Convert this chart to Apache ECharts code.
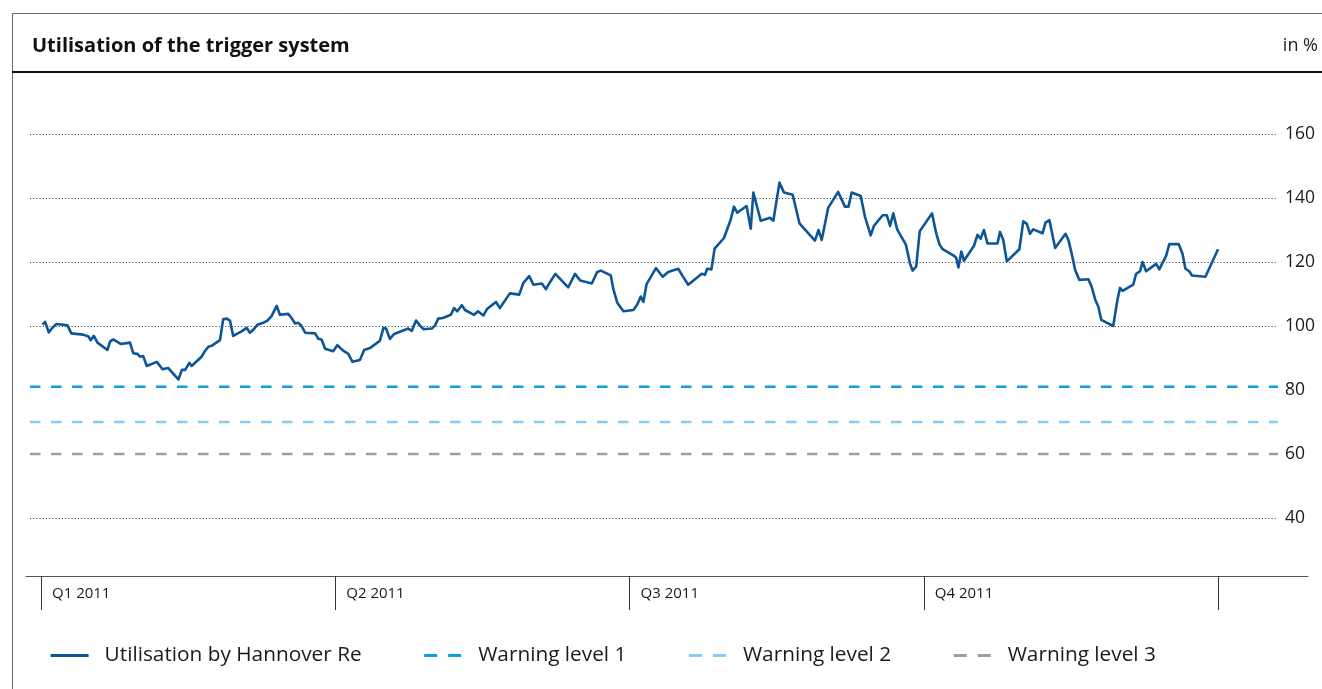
<!DOCTYPE html>
<html>
<head>
<meta charset="utf-8">
<title>Utilisation of the trigger system</title>
<script src="https://cdn.jsdelivr.net/npm/echarts@6/dist/echarts.min.js"></script>
<style>
  html, body { margin: 0; padding: 0; background: #fff; }
  #chart { width: 1322px; height: 689px; }
</style>
</head>
<body>
<div id="chart"></div>
<script>
// Day of year 2011 (0 = 1 January) and the utilisation of the trigger system in %
const days = [
  0.5, 1.3, 2.4, 3.4, 4.7, 6.9, 8.2, 9.4, 13.1, 14.7, 15.4, 16.4, 17.5, 20.6, 21.4, 22.4,
  24.7, 27.6, 28.6, 29.9, 30.7, 31.7, 32.8, 35.9, 37.7, 39.4, 42.6, 43.7, 44.7, 46.0, 46.7,
  49.8, 50.9, 51.9, 52.9, 55.5, 56.5, 57.6, 58.6, 59.6, 62.2, 63.8, 64.8, 65.8, 67.1, 68.9,
  70.2, 71.5, 73.1, 74.1, 76.7, 77.7, 78.8, 79.8, 80.8, 81.9, 85.0, 86.0, 87.0, 88.1, 90.6,
  91.9, 93.7, 95.3, 96.6, 98.9, 100.2, 102.0, 105.1, 106.2, 107.0, 108.2, 109.5, 113.9, 115.0,
  116.3, 117.5, 118.6, 121.2, 122.2, 123.2, 124.6, 127.1, 128.1, 129.1, 130.5, 131.5, 134.3,
  135.5, 137.2, 138.4, 141.1, 142.3, 145.4, 148.3, 149.6, 151.4, 152.7, 155.3, 156.6, 157.6,
  159.5, 163.5, 165.6, 167.2, 170.8, 172.5, 173.6, 176.7, 177.5, 178.7, 180.6, 183.7, 184.9,
  186.0, 186.8, 187.8, 190.7, 192.8, 194.5, 197.6, 199.0, 200.7, 204.9, 205.9, 206.6, 207.9,
  208.9, 211.8, 213.9, 214.9, 215.9, 218.8, 220.1, 220.9, 223.2, 226.1, 227.1, 229.0, 230.4,
  233.1, 235.2, 240.0, 241.1, 242.1, 244.1, 247.2, 249.3, 250.4, 251.4, 254.2, 255.5, 257.3,
  258.3, 261.0, 262.3, 263.3, 264.3, 265.5, 268.2, 269.5, 270.3, 271.4, 272.5, 276.3, 277.6,
  278.6, 279.6, 282.9, 283.8, 284.5, 285.4, 286.2, 289.3, 290.4, 291.4, 292.4, 293.5, 296.6,
  297.4, 298.4, 299.5, 303.4, 304.6, 305.7, 306.7, 307.7, 310.6, 311.5, 312.7, 314.5, 317.7,
  318.6, 319.6, 320.7, 322.0, 324.8, 325.8, 326.9, 327.9, 328.8, 332.5, 333.8, 334.6, 335.4,
  338.7, 339.6, 340.8, 341.6, 342.7, 345.8, 346.8, 348.9, 349.9, 352.8, 354.0, 354.9, 356.1,
  356.9, 361.1, 365.0
];
const utilisation = [
  100.4, 101.3, 98.0, 99.3, 100.6, 100.4, 100.2, 97.7, 97.3, 96.7, 95.6, 96.9, 94.8, 92.5, 95.1, 95.8,
  94.4, 94.8, 91.5, 91.3, 90.4, 90.6, 87.5, 88.8, 86.5, 86.9, 83.3, 86.3, 86.3, 88.5, 87.5,
  90.4, 92.3, 93.5, 93.8, 95.6, 102.1, 102.3, 101.7, 96.9, 98.3, 99.4, 97.9, 98.8, 100.4, 101.0,
  101.7, 103.1, 106.3, 103.5, 103.8, 102.5, 100.8, 101.0, 100.0, 97.9, 97.7, 96.0, 95.8, 92.9, 92.1,
  94.0, 92.3, 91.3, 88.8, 89.4, 92.5, 93.1, 95.4, 99.4, 99.2, 96.0, 97.5, 99.2, 98.5,
  101.7, 100.2, 99.0, 99.2, 100.2, 102.3, 102.5, 103.5, 105.6, 104.6, 106.5, 105.0, 103.5,
  104.6, 103.3, 105.4, 107.5, 105.6, 110.2, 109.8, 113.5, 115.6, 112.9, 113.3, 111.5, 113.3,
  116.3, 112.1, 116.3, 114.2, 113.3, 116.9, 117.3, 115.8, 111.5, 107.3, 104.6, 105.0, 106.7,
  109.2, 107.5, 113.1, 118.1, 115.4, 116.9, 117.9, 115.6, 112.9, 116.3, 116.0, 117.9, 117.7,
  124.2, 127.5, 133.3, 137.3, 135.4, 137.5, 130.4, 141.7, 132.9, 133.8, 132.9, 144.8, 141.7,
  141.0, 132.1, 126.7, 130.0, 126.9, 136.9, 141.9, 137.3, 137.3, 141.7, 140.6, 134.2, 128.3,
  131.3, 134.6, 134.6, 131.3, 135.2, 130.2, 125.4, 119.5, 117.3, 118.6, 129.6, 135.2, 129.0,
  125.6, 124.0, 122.1, 121.3, 118.3, 123.3, 120.4, 125.0, 128.5, 127.3, 130.0, 125.8, 125.8,
  129.4, 126.9, 120.2, 124.0, 132.7, 131.9, 128.8, 130.2, 129.0, 132.3, 133.1, 124.4, 128.8,
  126.9, 122.7, 117.5, 114.4, 114.6, 112.3, 108.3, 106.0, 101.9, 100.0, 108.1, 111.9, 111.0,
  112.9, 116.3, 117.1, 120.0, 117.1, 119.4, 117.7, 121.9, 125.6, 125.6, 122.5, 117.9, 117.1,
  115.8, 115.4, 124.0
];

// Warning levels of the trigger system in %
const warningNames = ['Warning level 1', 'Warning level 2', 'Warning level 3'];
const warningValues = [81, 70, 60];
const warningColors = ['#0b9fe0', '#84cdee', '#a79e93'];

// Quarter boundaries (day of year) and their labels
const quarterStarts = [0, 91.25, 182.5, 273.75, 365];
const quarterLabels = ['Q1 2011', 'Q2 2011', 'Q3 2011', 'Q4 2011'];

// Y axis ticks
const yMin = 40, yMax = 160, yStep = 20;
// Dotted guide lines per tick (40 … 160); none where the warning levels run
const gridLineColors = ['#333', 'rgba(0,0,0,0)', 'rgba(0,0,0,0)', '#333', '#333', '#333', '#333'];

// Day range covered by the plot area and by the quarter axis
const plotDayMin = -3.41, plotDayMax = 383.6;
const quarterDayMin = -4.65, quarterDayMax = 392.9;

const FONT = '"Open Sans", "Noto Sans", sans-serif';
const lineName = 'Utilisation by Hannover Re';

const series = [{
  name: lineName,
  type: 'line',
  xAxisIndex: 0,
  yAxisIndex: 0,
  data: days.map((d, i) => [d, utilisation[i]]),
  symbol: 'none',
  smooth: false,
  lineStyle: { color: '#0d5597', width: 2.6, join: 'round' },
  itemStyle: { color: '#0d5597' },
  z: 5
}];
warningNames.forEach((name, i) => {
  series.push({
    name: name,
    type: 'line',
    xAxisIndex: 0,
    yAxisIndex: 0,
    data: [[plotDayMin, warningValues[i]], [plotDayMax, warningValues[i]]],
    symbol: 'none',
    lineStyle: { color: warningColors[i], width: 2.6, type: [10.5, 10.5] },
    itemStyle: { color: warningColors[i] },
    z: 3
  });
});

// Legend entries: plain line samples, no symbol in the middle
const legendData = [
  { name: lineName, lineStyle: { width: 3.2 } }
].concat(warningNames.map(n => ({ name: n, lineStyle: { width: 3, type: [13, 11] } })));

const chart = echarts.init(document.getElementById('chart'), null, { renderer: 'canvas' });
chart.setOption({
  animation: false,
  backgroundColor: '#fff',
  textStyle: { fontFamily: FONT },
  title: [
    { text: 'Utilisation of the trigger system', left: 27, top: 31,
      textStyle: { fontFamily: FONT, fontSize: 20, fontWeight: 'bold', color: '#111' } },
    { text: 'in %', right: -1, top: 32,
      textStyle: { fontFamily: FONT, fontSize: 18, fontWeight: 'normal', color: '#222' } }
  ],
  legend: {
    left: 49,
    top: 645,
    padding: 0,
    itemWidth: 38,
    itemHeight: 14,
    itemGap: 61,
    itemStyle: { opacity: 0 },
    textStyle: { fontFamily: FONT, fontSize: 20.8, color: '#1a1a1a', padding: [0, 0, 0, 11] },
    data: legendData
  },
  grid: [
    { left: 30, right: 44, top: 134, bottom: 171, containLabel: false },
    { left: 26, right: 14, top: 560, bottom: 113, containLabel: false }
  ],
  xAxis: [
    { gridIndex: 0, type: 'value', min: plotDayMin, max: plotDayMax, show: false },
    {
      gridIndex: 1, type: 'value', min: quarterDayMin, max: quarterDayMax, position: 'bottom',
      axisLine: { show: true, lineStyle: { color: '#555', width: 1.2 } },
      axisTick: { show: true, customValues: quarterStarts, length: 34, inside: false,
        lineStyle: { color: '#333', width: 1 } },
      axisLabel: {
        customValues: quarterStarts.slice(0, 4),
        formatter: v => quarterLabels[quarterStarts.indexOf(v)] || '',
        align: 'left', margin: 10, padding: [0, 0, 0, 11],
        fontFamily: FONT, fontSize: 15, color: '#1a1a1a'
      },
      splitLine: { show: false }
    }
  ],
  yAxis: [
    {
      gridIndex: 0, type: 'value', position: 'right', min: yMin, max: yMax, interval: yStep,
      axisLine: { show: false }, axisTick: { show: false },
      axisLabel: { margin: 7, fontFamily: FONT, fontSize: 17.5, color: '#1a1a1a' },
      splitLine: { show: true, showMinLine: true, showMaxLine: true,
        lineStyle: { color: gridLineColors, width: 1, type: [1, 2.2] } }
    },
    { gridIndex: 1, type: 'value', show: false, min: 0, max: 1 }
  ],
  graphic: [
    { type: 'line', shape: { x1: 12.5, y1: 13.5, x2: 1322, y2: 13.5 }, style: { stroke: '#666', lineWidth: 1 }, silent: true },
    { type: 'line', shape: { x1: 12.5, y1: 13.5, x2: 12.5, y2: 689 }, style: { stroke: '#666', lineWidth: 1 }, silent: true },
    { type: 'line', shape: { x1: 12, y1: 72, x2: 1322, y2: 72 }, style: { stroke: '#111', lineWidth: 2.2 }, silent: true }
  ],
  series: series
});
</script>
</body>
</html>
